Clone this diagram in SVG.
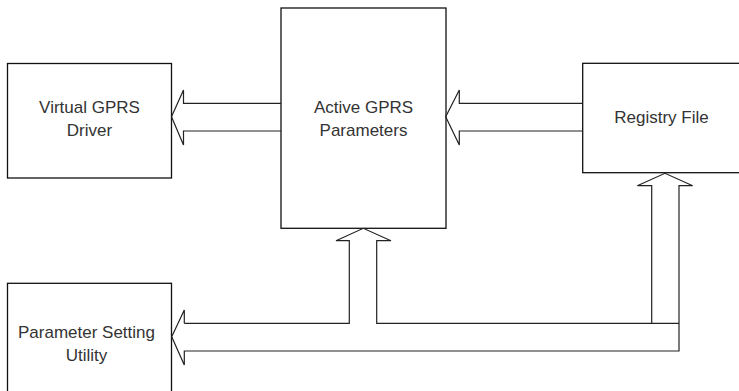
<svg xmlns="http://www.w3.org/2000/svg" width="739" height="391" viewBox="0 0 739 391">
<style>
.box{fill:#fff;stroke:#111;stroke-width:1.3}
.arr{fill:none;stroke:#222;stroke-width:1.2;stroke-linejoin:miter}
.t{font-family:"Liberation Sans",Arial,sans-serif;font-size:17px;fill:#333;text-anchor:middle}
</style>
<rect width="739" height="391" fill="#fff"/>
<g id="virtual-gprs-driver">
<rect class="box" x="7.5" y="63.5" width="164" height="114.5"/>
<text class="t" x="89.5" y="113">Virtual GPRS</text>
<text class="t" x="89.5" y="136">Driver</text>
</g>
<g id="active-gprs-parameters">
<rect class="box" x="281" y="8" width="165" height="220.3"/>
<text class="t" x="363.5" y="113">Active GPRS</text>
<text class="t" x="363.5" y="136">Parameters</text>
</g>
<g id="registry-file">
<rect class="box" x="582.7" y="63.3" width="160" height="109.4"/>
<text class="t" x="661.5" y="123">Registry File</text>
</g>
<g id="parameter-setting-utility">
<rect class="box" x="7.5" y="283.3" width="164" height="112"/>
<text class="t" x="86.5" y="338">Parameter Setting</text>
<text class="t" x="86.5" y="361">Utility</text>
</g>
<g id="connectors">
<path class="arr" d="M281,103.3 H183.5 V90 L171.5,116.7 L183.5,145 V131 H281"/>
<path class="arr" d="M582.7,103.3 H459.3 V90 L445.7,116.7 L459.3,145 V131 H582.7"/>
<path class="arr" d="M184.3,323.3 H349.3 V240.7 H336 L363.3,228.3 L391,240.7 H376.7 V323.3 H679"/>
<path class="arr" d="M651.7,323.3 V185.7 H637.3 L665,173.3 L692.7,185.7 H679 V351 H184.3 V365 L171.7,336.7 L184.3,310 V323.3"/>
</g>
</svg>
